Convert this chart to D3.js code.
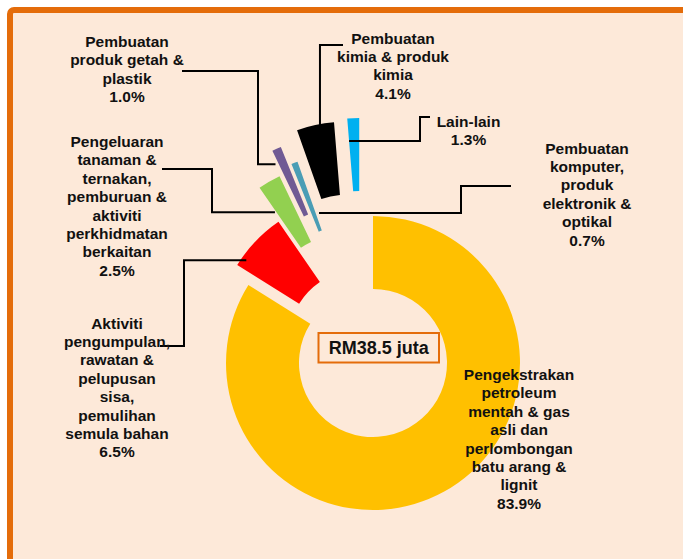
<!DOCTYPE html>
<html>
    <head>
        <script src="https://cdnjs.cloudflare.com/ajax/libs/d3/7.8.5/d3.min.js"></script>
        <title>Doughnut Chart</title>

        <style>

            html, body {
                height: 100%;
                margin: 0;
                background-color: #ffffff;
            }

            .svg_canvas {
                display: block;
            }

            text {
                font-family: "Liberation Sans", Arial, sans-serif;
                font-weight: bold;
                fill: #111111;
            }

        </style>
    </head>
    <body>
        <svg height="559" width="683" class="svg_canvas">
        </svg>

        <script>

            // data
            var categories = [
                "Pengekstrakan\npetroleum\nmentah & gas\nasli dan\nperlombongan\nbatu arang &\nlignit",
                "Aktiviti\npengumpulan,\nrawatan &\npelupusan\nsisa,\npemulihan\nsemula bahan",
                "Pengeluaran\ntanaman &\nternakan,\npemburuan &\naktiviti\nperkhidmatan\nberkaitan",
                "Pembuatan\nproduk getah &\nplastik",
                "Pembuatan\nkomputer,\nproduk\nelektronik &\noptikal",
                "Pembuatan\nkimia & produk\nkimia",
                "Lain-lain"
            ];
            var shares = [83.9, 6.5, 2.5, 1.0, 0.7, 4.1, 1.3];
            var totalLabel = "RM38.5 juta";

            // styling
            var colors = ["#FFC000", "#FF0000", "#92D050", "#705A94", "#4A9DB5", "#000000", "#00B0F0"];
            var explodeDist = [0, 23, 62, 88, 68, 98, 99];
            var explodeDir = [0, 331, 331, 335, 337, 344, 352];   // degrees, clockwise from top

            // label blocks: centre x, first baseline
            var labelPos = [
                [519, 380], [117, 328.5], [117, 147], [127, 47],
                [587, 153.5], [393, 43.5], [468.5, 127]
            ];
            var lineGap = 18.4;

            // leader lines: start x, start y, elbow x, anchor fraction across slice, anchor radius
            var leaders = [
                null,
                [160, 346, 184, 0.15, 142],
                [162, 169, 212, -0.07, 118],
                [182, 71, 258, -0.36, 133.5],
                [511, 186, 461, 1.8, 91.5],
                [343, 45, null, 0.62, 145.7],
                [430, 117, 420, 0, 124.4]
            ];

            var cx = 373, cy = 363, outerR = 147, innerR = 74;

            var svg = d3.select("svg");

            // frame
            svg.append("rect")
                .attr("x", 10)
                .attr("y", 10)
                .attr("width", 720)
                .attr("height", 600)
                .attr("rx", 4)
                .style("fill", "#FDE9D9")
                .style("stroke", "#E46C0A")
                .style("stroke-width", 6);

            var pie = d3.pie()
                .sort(null)
                .value(function(d){ return d; });

            var path = d3.arc()
                .outerRadius(outerR)
                .innerRadius(innerR);

            var slices = pie(shares);

            function offset(i) {
                var a = explodeDir[i] * Math.PI / 180;
                return [explodeDist[i] * Math.sin(a), -explodeDist[i] * Math.cos(a)];
            }

            var g = svg.append("g")
                .attr("transform", "translate(" + cx + "," + cy + ")");

            g.selectAll(".arc")
                .data(slices)
                .enter()
                .append("path")
                .attr("class", "arc")
                .attr("d", path)
                .attr("transform", function(d, i){
                    var o = offset(i);
                    return "translate(" + o[0] + "," + o[1] + ")";
                })
                .style("fill", function(d, i){ return colors[i]; });

            // leader lines
            slices.forEach(function(d, i){
                var l = leaders[i];
                if (!l) return;
                var a = d.startAngle + l[3] * (d.endAngle - d.startAngle);
                var o = offset(i);
                var ax = cx + o[0] + l[4] * Math.sin(a);
                var ay = cy + o[1] - l[4] * Math.cos(a);
                var ex = l[2] === null ? ax : l[2];
                svg.append("path")
                    .attr("d", "M" + l[0] + "," + l[1] + "H" + ex + "V" + ay + "H" + ax)
                    .style("fill", "none")
                    .style("stroke", "#000")
                    .style("stroke-width", 2);
            });

            // labels
            categories.forEach(function(name, i){
                var lines = name.split("\n").concat([shares[i].toFixed(1) + "%"]);
                var t = svg.append("text")
                    .attr("text-anchor", "middle")
                    .style("font-size", "15.5px");
                lines.forEach(function(s, k){
                    t.append("tspan")
                        .attr("x", labelPos[i][0])
                        .attr("y", labelPos[i][1] + k * lineGap)
                        .text(s);
                });
            });

            // total box
            svg.append("rect")
                .attr("x", 318.5)
                .attr("y", 333)
                .attr("width", 120.5)
                .attr("height", 29.5)
                .style("fill", "#FDE9D9")
                .style("stroke", "#E46C0A")
                .style("stroke-width", 2);

            svg.append("text")
                .attr("x", 378.7)
                .attr("y", 354)
                .attr("text-anchor", "middle")
                .style("font-size", "18px")
                .text(totalLabel);

        </script>
    </body>
</html>
